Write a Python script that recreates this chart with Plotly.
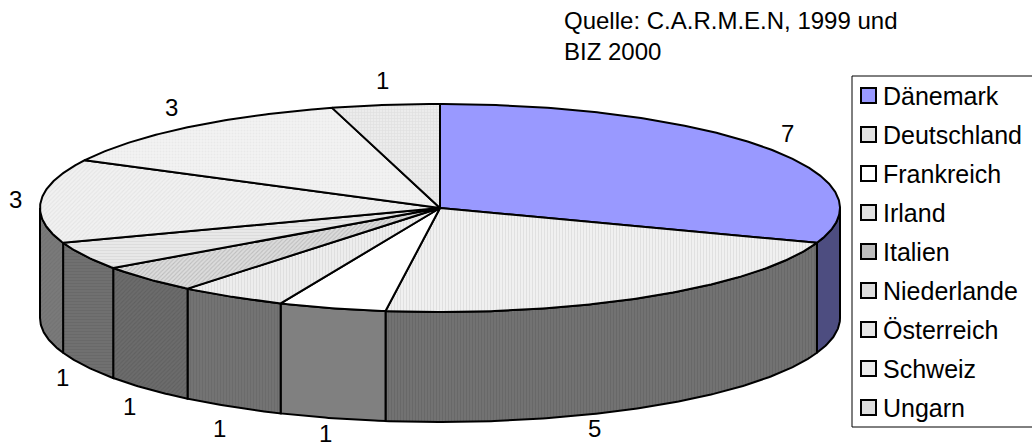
import numpy as np
import plotly.graph_objects as go

# Slice data (counts per country)
countries = ["Dänemark", "Deutschland", "Frankreich", "Irland", "Italien",
             "Niederlande", "Österreich", "Schweiz", "Ungarn"]
counts = [7, 5, 1, 1, 1, 1, 3, 3, 1]

# Face styling per slice: top face and outer wall
top_bg = ["#9999FF", "#F0F0F0", "#FFFFFF", "#EDEDED", "#DCDCDC",
          "#E8E8E8", "#F1F1F1", "#F2F2F2", "#ECECEC"]
top_fg = ["#9999FF", "#CFCFCF", "#FFFFFF", "#D2D2D2", "#9E9E9E",
          "#D0D0D0", "#D8D8D8", "#E0E0E0", "#D0D0D0"]
top_shape = ["", "|", "", "|", "/", "-", "/", ".", "+"]
wall_bg = ["#4D4D80", "#727272", "#808080", "#737373", "#6C6C6C",
           "#707070", "#7A7A7A", "#777777", "#777777"]
wall_fg = ["#4D4D80", "#5E5E5E", "#808080", "#646464", "#545454",
           "#626262", "#6A6A6A", "#666666", "#666666"]
legend_fill = ["#9999FF", "#E2E2E2", "#FFFFFF", "#E0E0E0", "#BDBDBD",
               "#DDDDDD", "#E6E6E6", "#EBEBEB", "#DEDEDE"]
# Small manual nudges for individual value labels (px)
label_nudge = {"Deutschland": (-66, 0)}

W, H = 1032, 448
CX, CY, RX, RY, DEPTH = 440, 208, 400, 104, 110
FONT = "Liberation Sans, Arial, sans-serif"


def rim(theta_deg, drop=0.0):
    t = np.radians(theta_deg)
    return CX + RX * np.sin(t), CY - RY * np.cos(t) + drop


def arc(a, b, drop=0.0):
    n = max(4, int(abs(b - a) * 2))
    th = np.linspace(a, b, n)
    return rim(th, drop)


def pattern(i, bg, fg):
    if not top_shape[i]:
        return None
    return dict(shape=top_shape[i], bgcolor=bg[i], fgcolor=fg[i],
                size=3, solidity=0.35)


total = float(sum(counts))
bounds = np.concatenate([[0.0], np.cumsum(counts) / total * 360.0])

fig = go.Figure()

# Outer walls on the visible (front) half of the disc
for i, c in enumerate(countries):
    a, b = max(bounds[i], 90.0), min(bounds[i + 1], 270.0)
    if b <= a:
        continue
    xt, yt = arc(a, b)
    xb, yb = arc(b, a, DEPTH)
    fig.add_trace(go.Scatter(
        x=np.concatenate([xt, xb, xt[:1]]), y=np.concatenate([yt, yb, yt[:1]]),
        mode="lines", fill="toself", fillcolor=wall_bg[i],
        fillpattern=pattern(i, wall_bg, wall_fg),
        line=dict(color="black", width=2), hoverinfo="skip", showlegend=False))

# Top faces
for i, c in enumerate(countries):
    xa, ya = arc(bounds[i], bounds[i + 1])
    xs = np.concatenate([[CX], xa, [CX]])
    ys = np.concatenate([[CY], ya, [CY]])
    fig.add_trace(go.Scatter(
        x=xs, y=ys, mode="lines", fill="toself", fillcolor=top_bg[i],
        fillpattern=pattern(i, top_bg, top_fg), line=dict(color="black", width=2),
        hoverinfo="skip", showlegend=False))

# Value labels just outside the rim
annotations = []
for i, c in enumerate(countries):
    mid = (bounds[i] + bounds[i + 1]) / 2.0
    t = np.radians(mid)
    drop = DEPTH if np.cos(t) < 0 else 0.0
    px, py = rim(mid, drop)
    px += 25 * np.sin(t)
    py -= 25 * np.cos(t)
    dx, dy = label_nudge.get(c, (0, 0))
    py = min(py + dy, H - 15)
    annotations.append(dict(x=px + dx, y=py, xref="x", yref="y",
                            text=str(counts[i]), showarrow=False,
                            font=dict(family=FONT, size=24, color="black"),
                            xanchor="center", yanchor="middle"))

annotations.append(dict(x=562, y=5, xref="x", yref="y", xanchor="left", yanchor="top",
                        align="left", showarrow=False,
                        text="Quelle: C.A.R.M.E.N, 1999 und<br>BIZ 2000",
                        font=dict(family=FONT, size=24, color="black")))

# Legend box with swatches and names
LEG_X, LEG_TOP, ROW = 852, 76, 39
shapes = [dict(type="rect", xref="x", yref="y", x0=LEG_X, x1=W + 10,
               y0=LEG_TOP, y1=LEG_TOP + ROW * len(countries),
               line=dict(color="black", width=1), fillcolor="white", layer="below")]
for i, c in enumerate(countries):
    yc = LEG_TOP + ROW * (i + 0.5)
    shapes.append(dict(type="rect", xref="x", yref="y", x0=LEG_X + 9, x1=LEG_X + 24,
                       y0=yc - 7.5, y1=yc + 7.5, fillcolor=legend_fill[i],
                       line=dict(color="black", width=2)))
    annotations.append(dict(x=LEG_X + 29, y=yc, xref="x", yref="y", text=c,
                            showarrow=False, xanchor="left", yanchor="middle",
                            font=dict(family=FONT, size=25, color="black")))

fig.update_layout(
    width=W, height=H, margin=dict(l=0, r=0, t=0, b=0),
    paper_bgcolor="white", plot_bgcolor="white", showlegend=False,
    xaxis=dict(range=[0, W], visible=False, fixedrange=True),
    yaxis=dict(range=[H, 0], visible=False, fixedrange=True),
    annotations=annotations, shapes=shapes,
)

fig.write_html("out.html")
